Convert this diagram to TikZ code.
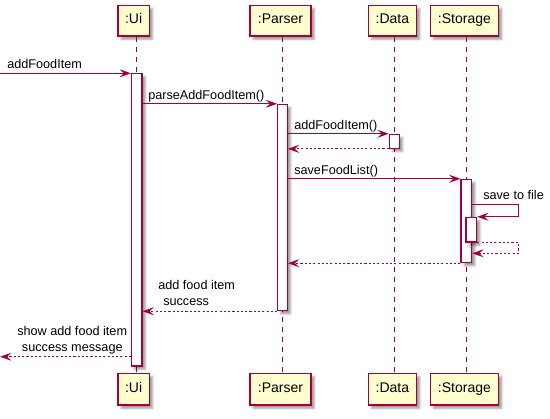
\documentclass[tikz,border=0pt]{standalone}
\usepackage{fontspec}
\setmainfont{Liberation Sans}
\usetikzlibrary{arrows.meta,fit,shadows.blur}
\definecolor{pborder}{HTML}{A80036}
\definecolor{pfill}{HTML}{FEFECE}
\begin{document}
\begin{tikzpicture}[x=0.75pt,y=-0.75pt,
  shd/.style={blur shadow={shadow xshift=2.4pt,shadow yshift=-2.4pt,shadow blur radius=1.6pt,shadow opacity=40}},
  pbox/.style={draw=pborder,fill=pfill,line width=1.1pt,inner sep=0pt,shd,
    font=\fontsize{10.5}{12}\selectfont},
  actbar/.style={draw=pborder,fill=white,line width=0.8pt,inner sep=0pt,shd},
  lifeline/.style={draw=pborder,line width=0.8pt,dash pattern=on 3.75pt off 3.75pt},
  msg/.style={draw=pborder,line width=0.8pt,-{Stealth[length=8.5pt,width=6pt,inset=3.2pt]}},
  ret/.style={msg,dash pattern=on 1.6pt off 1.6pt},
  lbl/.style={anchor=base west,inner sep=0pt,font=\fontsize{9.5}{12}\selectfont}]
\useasboundingbox (0,0) rectangle (550,418);
% participants
\node[pbox,fit={(118,5.3)(149.3,36)}] (uitop) {};
\node[pbox,fit={(118,373.3)(149.3,405)}] (uibot) {};
\node[pbox,fit={(250,5.3)(311,36)}] (ptop) {};
\node[pbox,fit={(250,373.3)(311,405)}] (pbot) {};
\node[pbox,fit={(368.3,5.3)(416.5,36)}] (dtop) {};
\node[pbox,fit={(368.3,373.3)(416.5,405)}] (dbot) {};
\node[pbox,fit={(430.3,5.3)(498.5,36)}] (stop) {};
\node[pbox,fit={(430.3,373.3)(498.5,405)}] (sbot) {};
\foreach \n/\t in {uitop/:Ui,uibot/:Ui,ptop/:Parser,pbot/:Parser,dtop/:Data,dbot/:Data,stop/:Storage,sbot/:Storage}
  \node[font=\fontsize{10.5}{12}\selectfont,inner sep=0pt] (\n-txt) at (\n.center) {\strut\t};
% lifelines (drawn on coordinates of the activation bars' x)
\coordinate (uix) at (136.7,0);
\coordinate (px) at (282.5,0);
\coordinate (dx) at (394.3,0);
\coordinate (sx) at (466.3,0);
\draw[lifeline] (uitop.south -| uix) -- (uibot.north -| uix);
\draw[lifeline] (ptop.south -| px) -- (pbot.north -| px);
\draw[lifeline] (dtop.south -| dx) -- (dbot.north -| dx);
\draw[lifeline] (stop.south -| sx) -- (sbot.north -| sx);
% activation bars
\node[actbar,fit={(131.5,73.3)(142,366)}] (uiact) {};
\node[actbar,fit={(277.7,104.3)(287.3,310.7)}] (pact) {};
\node[actbar,fit={(389.3,134.3)(399.3,148.3)}] (dact) {};
\node[actbar,fit={(461,179.3)(471.7,262.7)}] (sact) {};
\node[actbar,fit={(466,217.3)(476.7,242)}] (snest) {};
% messages
\coordinate (in1) at (0,73.3);
\draw[msg] (in1) -- (in1 -| uiact.west);
\node[lbl] (l1) at (7,68.8) {addFoodItem};
\draw[msg] (pact.north west -| uiact.east) -- (pact.north west);
\node[lbl] (l2) at (148,99.2) {parseAddFoodItem()};
\draw[msg] (dact.north west -| pact.east) -- (dact.north west);
\node[lbl] (l3) at (294,129.5) {addFoodItem()};
\draw[ret] (dact.south west) -- (dact.south west -| pact.east);
\draw[msg] (sact.north west -| pact.east) -- (sact.north west);
\node[lbl] (l5) at (294,174.3) {saveFoodList()};
\coordinate (self1) at (518.3,204.3);
\draw[msg] (self1 -| sact.east) -- (self1) |- (snest.north east);
\node[lbl] (l6) at (483,199.6) {save to file};
\coordinate (self2) at (518.3,253.3);
\draw[ret] (snest.south east) -| (self2) -- (self2 -| sact.east);
\draw[ret] (sact.south west) -- (sact.south west -| pact.east);
\draw[ret] (pact.south west) -- (pact.south west -| uiact.east);
\node[lbl] (l9a) at (158,289.3) {add food item};
\node[lbl] (l9b) at (163,305.3) {success};
\coordinate (out1) at (0,356.7);
\draw[ret] (out1 -| uiact.west) -- (out1);
\node[lbl] (l10a) at (17,335.8) {show add food item};
\node[lbl] (l10b) at (21.7,351.6) {success message};
\end{tikzpicture}
\end{document}
